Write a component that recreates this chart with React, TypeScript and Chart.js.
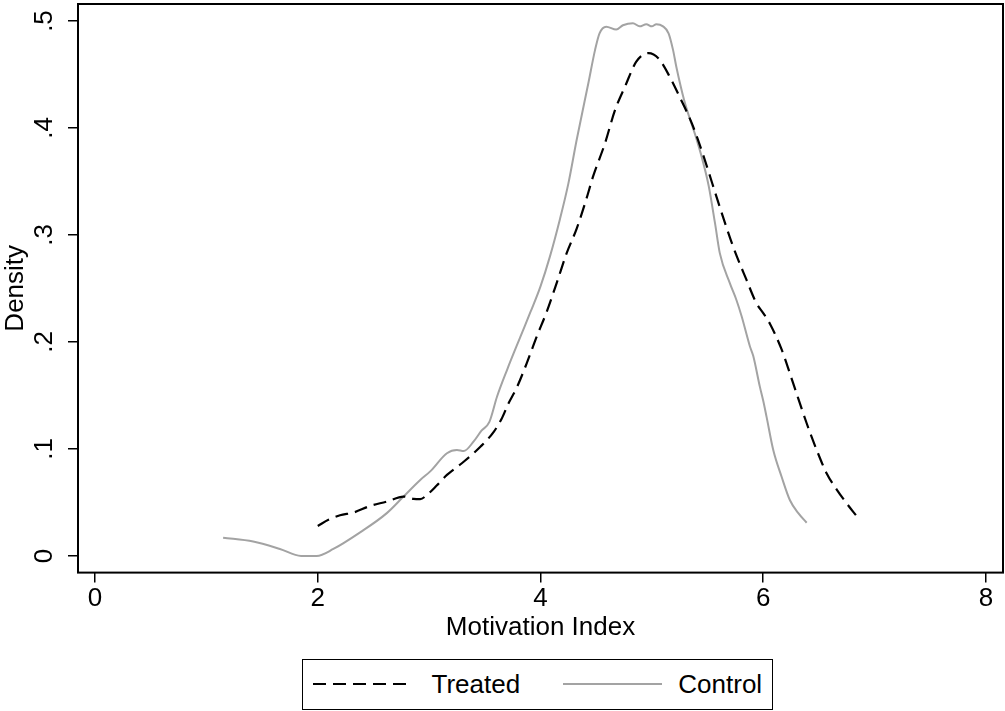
import React, { useEffect, useRef } from 'react';
import { Chart, registerables } from 'chart.js';

Chart.register(...registerables);

// ---- data ----
const seriesNames = ['Treated', 'Control'];

const treatedX = [2.0, 2.1, 2.2, 2.32, 2.47, 2.62, 2.77, 2.86, 2.92, 2.98, 3.07, 3.16, 3.31, 3.46, 3.58, 3.65, 3.71, 3.79, 3.876, 3.966, 4.055, 4.145, 4.235, 4.325, 4.41, 4.47, 4.58, 4.67, 4.76, 4.86, 4.97, 5.06, 5.16, 5.25, 5.36, 5.46, 5.61, 5.73, 5.85, 5.94, 6.0, 6.06, 6.165, 6.27, 6.39, 6.48, 6.57, 6.66, 6.75, 6.84];
const treatedY = [0.028, 0.034, 0.038, 0.0405, 0.0467, 0.0508, 0.0555, 0.0533, 0.053, 0.057, 0.066, 0.0757, 0.088, 0.102, 0.116, 0.128, 0.142, 0.158, 0.18, 0.205, 0.228, 0.255, 0.283, 0.306, 0.333, 0.354, 0.386, 0.417, 0.439, 0.462, 0.47, 0.465, 0.448, 0.429, 0.404, 0.375, 0.326, 0.289, 0.258, 0.236, 0.227, 0.217, 0.193, 0.161, 0.124, 0.099, 0.077, 0.062, 0.049, 0.037];

const controlX = [1.15, 1.42, 1.66, 1.85, 1.99, 2.14, 2.38, 2.62, 2.77, 2.92, 3.01, 3.16, 3.25, 3.31, 3.4, 3.47, 3.54, 3.61, 3.7, 3.82, 3.91, 4.0, 4.085, 4.175, 4.25, 4.325, 4.43, 4.49, 4.53, 4.59, 4.68, 4.74, 4.83, 4.89, 4.95, 5.0, 5.04, 5.1, 5.15, 5.19, 5.22, 5.29, 5.4, 5.45, 5.51, 5.567, 5.61, 5.7, 5.76, 5.806, 5.88, 5.91, 5.97, 6.0, 6.03, 6.09, 6.165, 6.24, 6.315, 6.39];
const controlY = [0.017, 0.0134, 0.0065, 0.0, 0.0, 0.0065, 0.022, 0.04, 0.0555, 0.071, 0.079, 0.096, 0.099, 0.098, 0.107, 0.117, 0.125, 0.149, 0.174, 0.205, 0.228, 0.252, 0.28, 0.315, 0.348, 0.389, 0.442, 0.473, 0.4885, 0.4947, 0.492, 0.496, 0.498, 0.495, 0.497, 0.495, 0.497, 0.495, 0.4885, 0.473, 0.457, 0.426, 0.39, 0.372, 0.346, 0.311, 0.283, 0.255, 0.239, 0.224, 0.196, 0.187, 0.158, 0.145, 0.13, 0.099, 0.074, 0.052, 0.04, 0.031];

const xTickValues = [0, 2, 4, 6, 8];
const yTickValues = [0, 0.1, 0.2, 0.3, 0.4, 0.5];
const yTickLabels = ['0', '.1', '.2', '.3', '.4', '.5'];
const xTitle = 'Motivation Index';
const yTitle = 'Density';

const FONT = '"Liberation Sans", Arial, Helvetica, sans-serif';
const TREATED_COLOR = '#000000';
const CONTROL_COLOR = '#a3a3a3';

export default function App() {
  const ref = useRef<HTMLCanvasElement>(null);

  useEffect(() => {
    if (!ref.current) return;
    const frame = {
      id: 'frame',
      afterDatasetsDraw(chart: any) {
        const { ctx, chartArea } = chart;
        ctx.save();
        ctx.strokeStyle = '#000';
        ctx.lineWidth = 2;
        ctx.strokeRect(chartArea.left, chartArea.top, chartArea.right - chartArea.left, chartArea.bottom - chartArea.top);
        ctx.restore();
      },
    };
    const font = { family: FONT, size: 26, lineHeight: 1 };
    const chart = new Chart(ref.current, {
      type: 'scatter',
      data: {
        datasets: [
          {
            label: seriesNames[0],
            data: treatedX.map((x, i) => ({ x, y: treatedY[i] })),
            showLine: true,
            borderColor: TREATED_COLOR,
            borderWidth: 2.2,
            borderDash: [13, 7],
            pointRadius: 0,
            fill: false,
            cubicInterpolationMode: 'monotone',
          },
          {
            label: seriesNames[1],
            data: controlX.map((x, i) => ({ x, y: controlY[i] })),
            showLine: true,
            borderColor: CONTROL_COLOR,
            borderWidth: 2,
            pointRadius: 0,
            fill: false,
            cubicInterpolationMode: 'monotone',
          },
        ],
      },
      options: {
        animation: false,
        responsive: false,
        maintainAspectRatio: false,
        layout: { padding: { left: 0, top: 4, right: 2, bottom: 0 } },
        plugins: { legend: { display: false }, tooltip: { enabled: false } },
        scales: {
          x: {
            type: 'linear',
            min: -0.153,
            max: 8.153,
            afterBuildTicks: (s: any) => {
              s.ticks = xTickValues.map((v) => ({ value: v }));
            },
            afterFit: (s: any) => {
              s.height = 77.4;
              s.paddingLeft = 0;
              s.paddingRight = 0;
              s.paddingTop = 0;
              s.paddingBottom = 0;
            },
            ticks: {
              font,
              color: '#000',
              padding: 3,
              maxRotation: 0,
              minRotation: 0,
              autoSkip: false,
              callback: (v: any) => String(v),
            },
            grid: { display: true, drawOnChartArea: false, drawTicks: true, tickLength: 10, color: '#000', lineWidth: 1.5 },
            border: { display: false },
            title: { display: true, text: xTitle, font, color: '#000', padding: { top: 0, bottom: 9 } },
          },
          y: {
            type: 'linear',
            min: -0.0156,
            max: 0.5159,
            afterBuildTicks: (s: any) => {
              s.ticks = yTickValues.map((v) => ({ value: v }));
            },
            afterFit: (s: any) => {
              s.width = 78;
              s.paddingLeft = 0;
              s.paddingRight = 0;
              s.paddingTop = 0;
              s.paddingBottom = 0;
            },
            ticks: {
              font,
              color: '#000',
              padding: 12,
              minRotation: 90,
              maxRotation: 90,
              crossAlign: 'center',
              autoSkip: false,
              callback: (v: any) => {
                const idx = yTickValues.findIndex((t) => Math.abs(t - v) < 1e-9);
                return idx >= 0 ? yTickLabels[idx] : '';
              },
            },
            grid: { display: true, drawOnChartArea: false, drawTicks: true, tickLength: 10, color: '#000', lineWidth: 1.5 },
            border: { display: false },
            title: { display: true, text: yTitle, font, color: '#000', padding: { top: 2.5, bottom: 0 } },
          },
        },
      } as any,
      plugins: [frame],
    });
    return () => chart.destroy();
  }, []);

  const textStyle: React.CSSProperties = {
    position: 'absolute',
    fontFamily: FONT,
    fontSize: 26,
    lineHeight: '26px',
    color: '#000',
    whiteSpace: 'nowrap',
    top: 671.3,
  };

  return (
    <div style={{ position: 'absolute', left: 0, top: 0, width: 1005, height: 711, background: '#fff', overflow: 'hidden' }}>
      <canvas ref={ref} width={1005} height={650} style={{ position: 'absolute', left: 0, top: 0, width: 1005, height: 650 }} />
      <div
        style={{
          position: 'absolute',
          left: 302,
          top: 658.5,
          width: 471,
          height: 51,
          border: '1.5px solid #000',
          boxSizing: 'border-box',
        }}
      />
      <svg style={{ position: 'absolute', left: 313, top: 674 }} width={100} height={20}>
        <line x1={0} y1={10} x2={100} y2={10} stroke={TREATED_COLOR} strokeWidth={2.2} strokeDasharray="13 7" />
      </svg>
      <span style={{ ...textStyle, left: 431.5 }}>{seriesNames[0]}</span>
      <svg style={{ position: 'absolute', left: 563, top: 674 }} width={99} height={20}>
        <line x1={0} y1={10} x2={99} y2={10} stroke={CONTROL_COLOR} strokeWidth={2} />
      </svg>
      <span style={{ ...textStyle, left: 678.3 }}>{seriesNames[1]}</span>
    </div>
  );
}
